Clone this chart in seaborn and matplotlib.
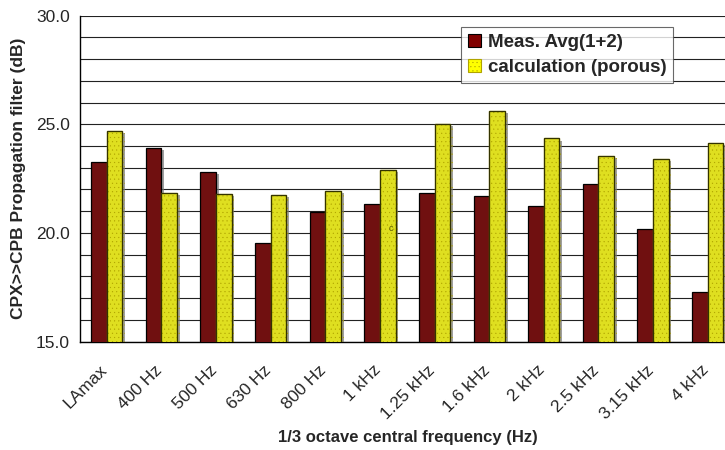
import numpy as np
import pandas as pd
import matplotlib
matplotlib.use("Agg")
import matplotlib.pyplot as plt
import matplotlib.patheffects as pe
import matplotlib.transforms as mtransforms
from matplotlib.patches import Patch, Rectangle
from matplotlib.ticker import MultipleLocator, FixedLocator, FormatStrFormatter
import seaborn as sns

# data
bands = ["LAmax", "400 Hz", "500 Hz", "630 Hz", "800 Hz", "1 kHz", "1.25 kHz",
         "1.6 kHz", "2 kHz", "2.5 kHz", "3.15 kHz", "4 kHz"]
meas_avg = [23.26, 23.91, 22.80, 19.54, 20.95, 21.33, 21.85, 21.70, 21.22, 22.25, 20.19, 17.29]
calc_porous = [24.69, 21.85, 21.78, 21.75, 21.95, 22.90, 25.00, 25.60, 24.35, 23.53, 23.39, 24.14]
series_names = ["Meas. Avg(1+2)", "calculation (porous)"]
colors = ["#800000", "#FFFF00"]

df = pd.DataFrame({
    "band": bands * 2,
    "value": meas_avg + calc_porous,
    "series": [series_names[0]] * len(bands) + [series_names[1]] * len(bands),
})

sns.set_style("white")
plt.rcParams["font.family"] = ["Liberation Sans", "DejaVu Sans"]
plt.rcParams["hatch.linewidth"] = 0.3

fig = plt.figure(figsize=(7.25, 4.5), dpi=100)
# plot area runs past the right edge, as in the (cropped) original
ax = fig.add_axes([79.5 / 725, 108.5 / 450, 655.5 / 725, 325.8 / 450])

sns.barplot(data=df, x="band", y="value", hue="series", order=bands,
            hue_order=series_names, palette=colors, width=0.57, gap=0,
            edgecolor="black", linewidth=0.9, legend=False, ax=ax, zorder=3)

shadow = [pe.SimplePatchShadow(offset=(2, -1.5), shadow_rgbFace="#777777", alpha=0.7), pe.Normal()]
n = len(bands)
bars = list(ax.patches)
dot_color = "#b0a400"
for i, p in enumerate(bars):
    p.set_path_effects(shadow)
    if i >= n:
        # dotted fill: hatch takes the edge colour, so redraw the outline on top
        p.set_hatch("....")
        p.set_edgecolor(dot_color)
        ax.add_patch(Rectangle(p.get_xy(), p.get_width(), p.get_height(), fill=False,
                               edgecolor="#333300", linewidth=0.9, zorder=4))

ax.set_ylim(15, 30)
ax.set_xlim(-0.5, n - 0.5)
ax.yaxis.set_major_locator(MultipleLocator(5))
ax.yaxis.set_minor_locator(MultipleLocator(1))
ax.yaxis.set_major_formatter(FormatStrFormatter("%.1f"))
ax.grid(which="both", axis="y", color="#222222", linewidth=0.8, zorder=0)
ax.set_axisbelow(True)

# x ticks at category boundaries, labels at centres
ax.xaxis.set_major_locator(FixedLocator(np.arange(-0.5, n, 1.0)))
ax.set_xticklabels([])
ax.set_xticks(np.arange(n), bands, minor=True)
ax.tick_params(axis="x", which="major", direction="out", length=5, width=0.8, color="black")
ax.tick_params(axis="x", which="minor", length=0, pad=15, labelsize=12.5)
shift = mtransforms.ScaledTranslation(-7 / 100, 0, fig.dpi_scale_trans)
for lbl in ax.get_xticklabels(minor=True):
    lbl.set_rotation(45)
    lbl.set_ha("right")
    lbl.set_rotation_mode("anchor")
    lbl.set_transform(lbl.get_transform() + shift)
ax.tick_params(axis="y", which="major", direction="out", length=5, width=0.8,
               color="black", labelsize=12.5, pad=2)
ax.tick_params(axis="y", which="minor", length=0)

for s in ["top", "right"]:
    ax.spines[s].set_visible(False)
for s in ["left", "bottom"]:
    ax.spines[s].set_color("black")
    ax.spines[s].set_linewidth(1.0)

ax.set_xlabel("1/3 octave central frequency (Hz)", fontsize=12, fontweight="bold")
ax.xaxis.set_label_coords(0.5004, (20 - 108.5) / 325.8)
ax.set_ylabel("CPX>>CPB Propagation filter (dB)", fontsize=12.5, fontweight="bold", labelpad=7)

ax.text(5.2, 20.2, "c", fontsize=6.5, color="#555500", ha="center", va="center", zorder=5)

handles = [Patch(facecolor=colors[0], edgecolor="black", linewidth=0.8),
           Patch(facecolor=colors[1], edgecolor=dot_color, linewidth=0.8, hatch="....")]
leg = fig.legend(handles, series_names, loc="upper left",
                 bbox_to_anchor=(461 / 725, 1 - 27 / 450), bbox_transform=fig.transFigure,
                 prop={"weight": "bold", "size": 13.5}, frameon=True, fancybox=False,
                 edgecolor="#444444", borderpad=0.35, handlelength=0.7, handleheight=0.7,
                 handletextpad=0.4, labelspacing=0.45, borderaxespad=0)
leg.get_frame().set_linewidth(0.8)

fig.savefig("out.png", dpi=100)
